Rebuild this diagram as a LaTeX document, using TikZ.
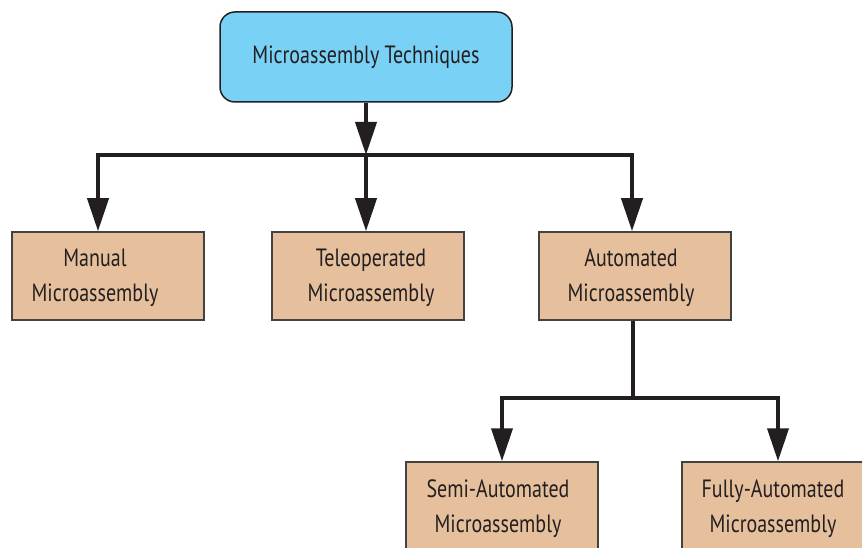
\documentclass[tikz,border=0pt]{standalone}
\usepackage{fontspec}
\setmainfont{PT Sans}[FakeStretch=0.8]
\usetikzlibrary{arrows.meta}
\definecolor{inkdark}{HTML}{231F20}
\definecolor{skyfill}{HTML}{79D1F5}
\definecolor{tanfill}{HTML}{E6C09D}
\tikzset{
  rootbox/.style={draw=inkdark, line width=1.5pt, fill=skyfill, rounded corners=15pt,
    minimum width=292pt, minimum height=90pt, inner sep=0pt},
  leafbox/.style={draw=inkdark!85, line width=1.5pt, fill=tanfill,
    minimum width=192pt, minimum height=88pt, inner sep=0pt},
  boxtext/.style={align=center, text=inkdark, font=\fontsize{25}{35}\selectfont, inner sep=0pt},
  conn/.style={draw=inkdark, line width=4pt, line join=miter},
  tip/.tip={Triangle[width=21pt, length=33pt]},
}
\begin{document}
\begin{tikzpicture}[x=1pt, y=-1pt]
  \useasboundingbox (0,0) rectangle (862,548);
  \begin{scope}
  \clip (0,0) rectangle (862,548);

  % boxes
  \node[rootbox] (root) at (366,57) {};
  \node[boxtext, anchor=base] (roottxt) at (366,64) {Microassembly Techniques};

  \node[leafbox] (manual) at (108,276) {};
  \node[boxtext] (manualtxt) at (95,278) {Manual\\Microassembly};

  \node[leafbox] (tele) at (368,276) {};
  \node[boxtext] (teletxt) at (371,278) {Teleoperated\\Microassembly};

  \node[leafbox] (auto) at (635,276) {};
  \node[boxtext] (autotxt) at (631,278) {Automated\\Microassembly};

  \node[leafbox] (semi) at (502,506) {};
  \node[boxtext] (semitxt) at (498,509) {Semi-Automated\\Microassembly};

  \node[leafbox] (fully) at (778,506) {};
  \node[boxtext] (fullytxt) at (773,509) {Fully-Automated\\Microassembly};

  % first level bus
  \coordinate (busL) at (98,155);
  \coordinate (busM) at (366,155);
  \coordinate (busR) at (632,155);
  \draw[conn, -{tip}] (root.south -| busM) -- (busM);
  \draw[conn, {tip}-{tip}] (busL |- manual.north) -- (busL) -- (busR) -- (busR |- auto.north);
  \draw[conn, -{tip}] (busM) -- (busM |- tele.north);

  % second level bus
  \coordinate (bus2M) at (633,398);
  \coordinate (bus2L) at (502,398);
  \coordinate (bus2R) at (778,398);
  \draw[conn] (auto.south -| bus2M) -- (bus2M);
  \draw[conn, {tip}-{tip}] (bus2L |- semi.north) -- (bus2L) -- (bus2R) -- (bus2R |- fully.north);
  \end{scope}
\end{tikzpicture}
\end{document}
